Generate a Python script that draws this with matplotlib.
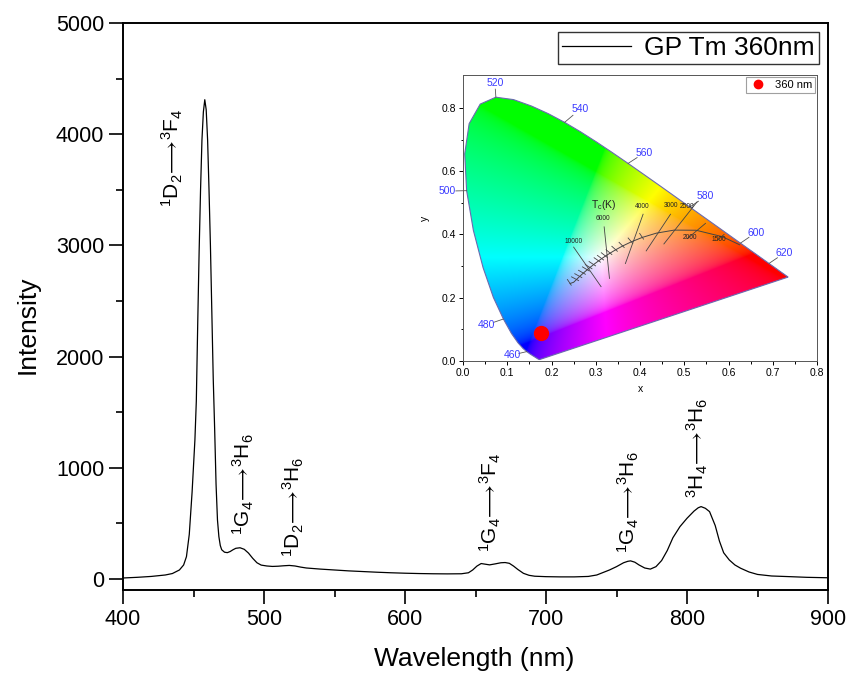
import numpy as np
import matplotlib
matplotlib.use("Agg")
import matplotlib.pyplot as plt
from matplotlib.path import Path
from matplotlib.patches import PathPatch

plt.rcParams['font.family'] = ['Liberation Sans', 'DejaVu Sans']
plt.rcParams['mathtext.fontset'] = 'custom'
plt.rcParams['mathtext.rm'] = 'Liberation Sans'
plt.rcParams['mathtext.it'] = 'Liberation Sans'
plt.rcParams['mathtext.bf'] = 'Liberation Sans'

# ---------------- main spectrum data ----------------
wavelength = [400, 410, 420, 430, 435, 440, 443, 445, 447, 449, 451, 452, 453, 454, 455, 456,
              457, 458, 459, 460, 461, 462, 463, 464, 465, 466, 467, 468, 469, 470, 472, 474,
              476, 478, 480, 483, 486, 489, 492, 495, 498, 502, 506, 510, 514, 518, 522, 526,
              530, 540, 550, 560, 570, 580, 590, 600, 610, 620, 630, 640, 645, 648, 651, 654,
              657, 660, 664, 668, 671, 674, 677, 680, 684, 688, 692, 700, 710, 720, 730, 736,
              740, 745, 750, 755, 758, 760, 763, 766, 770, 774, 778, 782, 786, 790, 795, 800,
              805, 808, 810, 813, 816, 820, 823, 826, 830, 834, 838, 844, 850, 860, 873, 885, 900]
intensity = [8, 14, 22, 35, 48, 80, 125, 200, 400, 780, 1250, 1600, 2300, 2950, 3500, 3950,
             4200, 4310, 4220, 3950, 3500, 3000, 2400, 1800, 1350, 850, 530, 380, 300, 262, 240, 236,
             246, 262, 275, 280, 266, 232, 185, 145, 124, 116, 112, 114, 118, 121, 116, 106,
             98, 88, 80, 72, 66, 60, 55, 51, 48, 46, 45, 46, 55, 80, 115, 138,
             132, 126, 135, 145, 147, 140, 115, 85, 50, 32, 24, 20, 18, 18, 22, 35,
             55, 80, 110, 145, 158, 162, 150, 125, 98, 88, 110, 165, 255, 370, 470, 545,
             610, 640, 650, 635, 605, 480, 340, 235, 170, 125, 96, 62, 40, 26, 20, 14, 10]

# transition labels: (text, wavelength, intensity at label bottom)
ann_text = [r'$^{1}\mathrm{D}_{2}\!\longrightarrow\!{}^{3}\mathrm{F}_{4}$',
            r'$^{1}\mathrm{G}_{4}\!\longrightarrow\!{}^{3}\mathrm{H}_{6}$',
            r'$^{1}\mathrm{D}_{2}\!\longrightarrow\!{}^{3}\mathrm{H}_{6}$',
            r'$^{1}\mathrm{G}_{4}\!\longrightarrow\!{}^{3}\mathrm{F}_{4}$',
            r'$^{1}\mathrm{G}_{4}\!\longrightarrow\!{}^{3}\mathrm{H}_{6}$',
            r'$^{3}\mathrm{H}_{4}\!\longrightarrow\!{}^{3}\mathrm{H}_{6}$']
ann_w = [434.8, 485.1, 520.6, 660.3, 758.2, 807.1]
ann_i = [3345, 396, 198, 243, 234, 728]

# ---------------- CIE data ----------------
locus_x = [0.1741, 0.1733, 0.1726, 0.1714, 0.1689, 0.1644, 0.1566, 0.1510, 0.1440, 0.1355,
           0.1241, 0.1096, 0.0913, 0.0687, 0.0454, 0.0235, 0.0082, 0.0039, 0.0139, 0.0389,
           0.0743, 0.1142, 0.1547, 0.1929, 0.2296, 0.2658, 0.3016, 0.3373, 0.3731, 0.4087,
           0.4441, 0.4788, 0.5125, 0.5448, 0.5752, 0.6029, 0.6270, 0.6482, 0.6658, 0.6801,
           0.6915, 0.7079, 0.7190, 0.7260, 0.7300, 0.7334, 0.7347]
locus_y = [0.0050, 0.0048, 0.0048, 0.0051, 0.0069, 0.0109, 0.0177, 0.0227, 0.0297, 0.0399,
           0.0578, 0.0868, 0.1327, 0.2007, 0.2950, 0.4127, 0.5384, 0.6548, 0.7502, 0.8120,
           0.8338, 0.8262, 0.8059, 0.7816, 0.7543, 0.7243, 0.6923, 0.6589, 0.6245, 0.5896,
           0.5547, 0.5202, 0.4866, 0.4544, 0.4242, 0.3965, 0.3725, 0.3514, 0.3340, 0.3197,
           0.3083, 0.2920, 0.2809, 0.2740, 0.2700, 0.2666, 0.2653]

wl_labels = ['460', '480', '500', '520', '540', '560', '580', '600', '620']
wl_pt_x = [0.1440, 0.0913, 0.0082, 0.0743, 0.2296, 0.3731, 0.5125, 0.6270, 0.6915]
wl_pt_y = [0.0297, 0.1327, 0.5384, 0.8338, 0.7543, 0.6245, 0.4866, 0.3725, 0.3083]
wl_lab_x = [0.112, 0.052, -0.036, 0.072, 0.264, 0.410, 0.548, 0.662, 0.726]
wl_lab_y = [0.019, 0.114, 0.537, 0.880, 0.795, 0.658, 0.520, 0.406, 0.341]

planck_T = [1200, 1500, 2000, 2500, 3000, 3500, 4000, 4500, 5000, 5500, 6000, 6500, 7000,
            8000, 9000, 10000, 12000, 15000, 20000, 30000, 50000]
planck_x = [0.6251, 0.5857, 0.5267, 0.4770, 0.4369, 0.4053, 0.3805, 0.3608, 0.3451, 0.3325,
            0.3221, 0.3135, 0.3064, 0.2952, 0.2869, 0.2807, 0.2719, 0.2637, 0.2565, 0.2501, 0.2420]
planck_y = [0.3674, 0.3931, 0.4133, 0.4137, 0.4041, 0.3907, 0.3768, 0.3636, 0.3516, 0.3411,
            0.3318, 0.3237, 0.3166, 0.3048, 0.2956, 0.2884, 0.2779, 0.2674, 0.2577, 0.2489, 0.2450]

iso_labels = ['10000', '6000', '4000', '3000', '2500', '2000', '1500']
iso_x1 = [0.250, 0.319, 0.407, 0.469, 0.529, 0.548, 0.590]
iso_y1 = [0.360, 0.424, 0.464, 0.464, 0.503, 0.435, 0.400]
iso_x2 = [0.312, 0.331, 0.367, 0.414, 0.454, 0.507, 0.575]
iso_y2 = [0.235, 0.261, 0.308, 0.348, 0.370, 0.387, 0.382]
iso_lab_x = [0.250, 0.316, 0.405, 0.470, 0.507, 0.512, 0.579]
iso_lab_y = [0.368, 0.440, 0.477, 0.482, 0.477, 0.378, 0.373]

tick_idx = [5, 6, 7, 8, 9, 10, 11, 12, 13, 14, 15, 16, 17, 18, 20]

point_x = [0.176]
point_y = [0.090]

# ---------------- figure ----------------
fig = plt.figure(figsize=(8.47, 6.74), dpi=100)
ax = fig.add_axes([123/847, 1-590/674, 705/847, 567/674])
ax.plot(wavelength, intensity, color='black', lw=0.9, label='GP Tm 360nm')
ax.set_xlim(400, 900)
ax.set_ylim(-100, 5000)
ax.set_xticks([400, 500, 600, 700, 800, 900])
ax.set_xticks([450, 550, 650, 750, 850], minor=True)
ax.set_yticks([0, 1000, 2000, 3000, 4000, 5000])
ax.set_yticks([500, 1500, 2500, 3500, 4500], minor=True)
ax.tick_params(which='major', direction='out', length=10, width=1.2, labelsize=15.5)
ax.tick_params(which='minor', direction='out', length=5, width=1.2)
for s in ax.spines.values():
    s.set_linewidth(1.4)
ax.set_xlabel('Wavelength (nm)', fontsize=19)
ax.set_ylabel('Intensity', fontsize=19)
ax.xaxis.set_label_coords(0.498, -0.100)
ax.yaxis.set_label_coords(-0.118, 0.467)
leg = ax.legend(loc='upper right', fontsize=19, frameon=True, fancybox=False,
                edgecolor='black', handlelength=2.6, handletextpad=0.5,
                borderpad=0.15, borderaxespad=0.35)
leg.get_frame().set_linewidth(1.0)
for t, w, i in zip(ann_text, ann_w, ann_i):
    ax.text(w, i, t, rotation=90, ha='center', va='bottom', fontsize=15)

# ---------------- inset CIE ----------------
ia = fig.add_axes([463/847, 1-361/674, 354/847, 286/674])
ia.set_xlim(0, 0.8)
ia.set_ylim(0, 0.904)

n = 400
gx, gy = np.meshgrid(np.linspace(0, 0.8, n), np.linspace(0, 0.904, n))
gy_s = np.maximum(gy, 1e-4)
X = gx / gy_s
Y = np.ones_like(gx)
Z = (1 - gx - gy) / gy_s
M = np.array([[3.2406, -1.5372, -0.4986],
              [-0.9689, 1.8758, 0.0415],
              [0.0557, -0.2040, 1.0570]])
rgb = np.stack([M[k, 0]*X + M[k, 1]*Y + M[k, 2]*Z for k in range(3)], axis=-1)
rgb = np.clip(rgb, 0, None)
rgb = rgb / np.maximum(rgb.max(axis=-1, keepdims=True), 1e-9)
rgb = np.where(rgb <= 0.0031308, 12.92*rgb, 1.055*np.power(rgb, 1/2.4) - 0.055)
rgb = np.clip(rgb, 0, 1)
im = ia.imshow(rgb, origin='lower', extent=[0, 0.8, 0, 0.904], aspect='auto',
               interpolation='bilinear', zorder=1)
verts = list(zip(locus_x, locus_y)) + [(locus_x[0], locus_y[0])]
clip = PathPatch(Path(verts), transform=ia.transData, facecolor='none',
                 edgecolor='#6a6ab0', lw=0.8, zorder=2)
ia.add_patch(clip)
im.set_clip_path(clip)

for lab, px, py, lx, ly in zip(wl_labels, wl_pt_x, wl_pt_y, wl_lab_x, wl_lab_y):
    ia.plot([px, px + (lx - px)*0.55], [py, py + (ly - py)*0.55], color='#555555', lw=0.6,
            zorder=3, clip_on=False)
    ia.text(lx, ly, lab, color='#3a3aff', fontsize=7.5, ha='center', va='center', zorder=4,
            clip_on=False)

ia.plot(planck_x, planck_y, color='#444444', lw=0.7, zorder=3)
px_arr = np.array(planck_x)
py_arr = np.array(planck_y)
for k in tick_idx:
    k0 = max(k-1, 0)
    k1 = min(k+1, len(px_arr)-1)
    dx = px_arr[k1]-px_arr[k0]
    dy = py_arr[k1]-py_arr[k0]
    L = np.hypot(dx, dy)
    nx, ny = -dy/L, dx/L
    ia.plot([px_arr[k] - nx*0.014, px_arr[k] + nx*0.006],
            [py_arr[k] - ny*0.014, py_arr[k] + ny*0.006], color='#444444', lw=0.6, zorder=3)
for lab, x1, y1, x2, y2, lx, ly in zip(iso_labels, iso_x1, iso_y1, iso_x2, iso_y2, iso_lab_x, iso_lab_y):
    ia.plot([x1, x2], [y1, y2], color='#444444', lw=0.6, zorder=3)
    ia.text(lx, ly, lab, fontsize=4.8, ha='center', va='bottom', color='#222222', zorder=4)
ia.text(0.318, 0.472, r'T$_{\rm c}$(K)', fontsize=7.5, ha='center', va='bottom', color='#222222', zorder=4)

ia.plot(point_x, point_y, 'o', color='red', markersize=10, zorder=5, label='360 nm')
il = ia.legend(loc='upper right', fontsize=8, frameon=True, fancybox=False, edgecolor='#888888',
               handletextpad=0.8, borderpad=0.25, borderaxespad=0.2, markerscale=0.6,
               handlelength=1.5)
il.get_frame().set_linewidth(0.8)

ia.set_xticks(np.arange(0, 0.81, 0.1))
ia.set_xticks(np.arange(0.05, 0.8, 0.1), minor=True)
ia.set_yticks(np.arange(0, 0.81, 0.2))
ia.set_yticks(np.arange(0.1, 0.9, 0.2), minor=True)
ia.xaxis.set_major_formatter(matplotlib.ticker.FormatStrFormatter('%.1f'))
ia.yaxis.set_major_formatter(matplotlib.ticker.FormatStrFormatter('%.1f'))
ia.tick_params(which='major', direction='out', length=3, width=0.7, labelsize=7.5, pad=2)
ia.tick_params(which='minor', direction='out', length=1.8, width=0.7)
ia.set_xlabel('x', fontsize=7.5, labelpad=4)
ia.set_ylabel('y', fontsize=7.5, labelpad=8)
for s in ia.spines.values():
    s.set_linewidth(0.7)
    s.set_color('#555555')

fig.savefig('out.png', dpi=100)
